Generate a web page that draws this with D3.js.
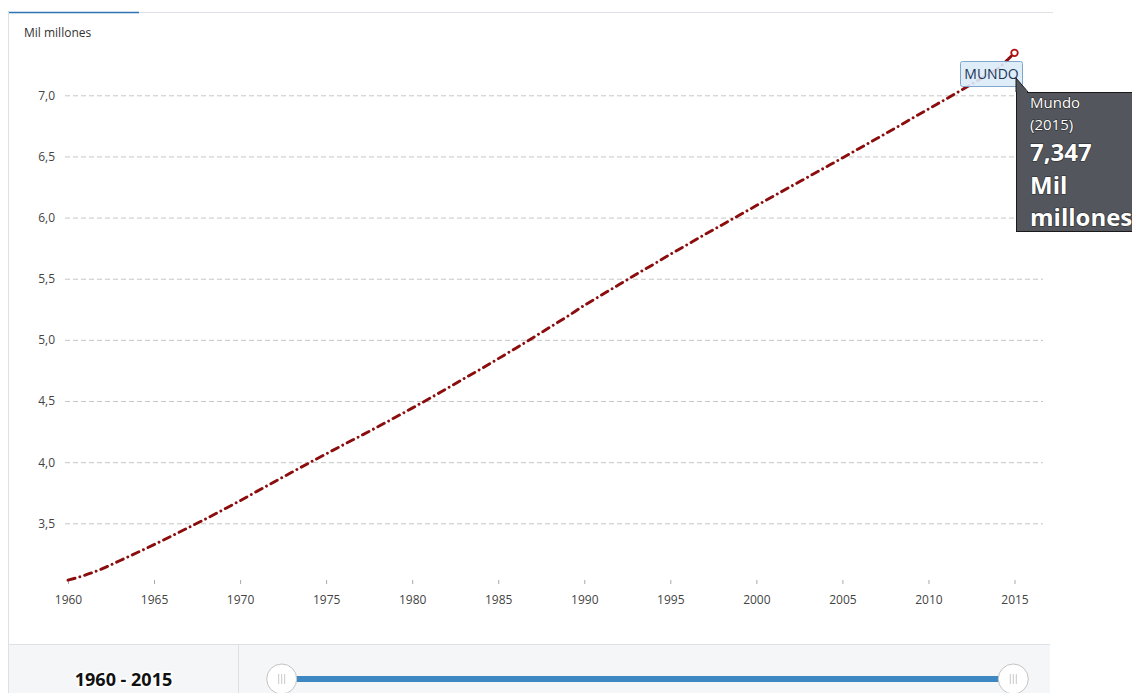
<!DOCTYPE html>
<html>
<head>
<meta charset="utf-8">
<script src="https://cdn.jsdelivr.net/npm/d3@7"></script>
<style>
  body { margin: 0; background: #fff; font-family: "Open Sans", sans-serif; }
  svg { display: block; }
</style>
</head>
<body>
<svg id="chart" width="1132" height="693"></svg>
<script>
// data: world population, billions
var years = d3.range(1960, 2016);
var population = [
  3.035, 3.076, 3.129, 3.194, 3.259, 3.326, 3.395, 3.465, 3.536, 3.610,
  3.685, 3.763, 3.840, 3.917, 3.993, 4.068, 4.142, 4.215, 4.289, 4.365,
  4.442, 4.520, 4.601, 4.682, 4.763, 4.846, 4.930, 5.016, 5.103, 5.190,
  5.282, 5.366, 5.450, 5.534, 5.616, 5.699, 5.780, 5.861, 5.940, 6.019,
  6.098, 6.176, 6.254, 6.332, 6.410, 6.488, 6.567, 6.646, 6.726, 6.807,
  6.888, 6.968, 7.050, 7.132, 7.215, 7.347
];
var yTicks = [3.5, 4.0, 4.5, 5.0, 5.5, 6.0, 6.5, 7.0];
var xTicks = d3.range(1960, 2016, 5);
var unitLabel = "Mil millones";
var seriesName = "Mundo";
var rangeLabel = "1960 - 2015";

var data = years.map(function(y, i) { return { year: y, value: population[i] }; });
var last = data[data.length - 1];

var svg = d3.select("#chart");
var fmt = function(v) { return d3.format(".1f")(v).replace(".", ","); };

// scales
var x = d3.scaleLinear().domain([1960, 2015]).range([68, 1014.5]);
var y = d3.scaleLinear().domain([3.5, 7.0]).range([523.3, 95.3]);

// frame: top rule with blue tab, left rule
svg.append("line").attr("x1", 8).attr("x2", 1053).attr("y1", 12.5).attr("y2", 12.5)
  .attr("stroke", "#dde1e6").attr("stroke-width", 1);
svg.append("line").attr("x1", 8).attr("x2", 139).attr("y1", 12.5).attr("y2", 12.5)
  .attr("stroke", "#2f75b5").attr("stroke-width", 1.5);
svg.append("line").attr("x1", 8.5).attr("x2", 8.5).attr("y1", 12).attr("y2", 693)
  .attr("stroke", "#dde1e6");

// unit label
svg.append("text").attr("x", 24).attr("y", 37)
  .attr("font-size", 12).attr("fill", "#333").text(unitLabel);

// y axis with dashed grid
var yAxis = d3.axisLeft(y).tickValues(yTicks).tickFormat(fmt)
  .tickSize(-978).tickPadding(10);
var gy = svg.append("g").attr("transform", "translate(65,0)").call(yAxis);
gy.select(".domain").remove();
gy.selectAll(".tick line").attr("stroke", "#c6c6c6").attr("stroke-dasharray", "5,3");
gy.selectAll(".tick text").attr("font-family", "Open Sans").attr("font-size", 12)
  .attr("fill", "#444").attr("x", -10);

// x axis
var xAxis = d3.axisBottom(x).tickValues(xTicks).tickFormat(d3.format("d"))
  .tickSize(4).tickPadding(11);
var gx = svg.append("g").attr("transform", "translate(0,580)").call(xAxis);
gx.select(".domain").remove();
gx.selectAll(".tick line").attr("stroke", "#aaa");
gx.selectAll(".tick text").attr("font-family", "Open Sans").attr("font-size", 12)
  .attr("fill", "#444");

// line
var line = d3.line().x(function(d) { return x(d.year); }).y(function(d) { return y(d.value); })
  .curve(d3.curveMonotoneX);
svg.append("path").datum(data).attr("d", line)
  .attr("fill", "none").attr("stroke", "#8b0d0d").attr("stroke-width", 2.9)
  .attr("stroke-linecap", "round").attr("stroke-dasharray", "7.3,5.0,0.01,5.0");

// end marker
svg.append("circle").attr("cx", x(last.year)).attr("cy", y(last.value)).attr("r", 3.3)
  .attr("fill", "#fff").attr("stroke", "#b01010").attr("stroke-width", 1.8);

// series label box
var lbl = svg.append("g");
lbl.append("rect").attr("x", 960.5).attr("y", 61.5).attr("width", 62).attr("height", 25)
  .attr("rx", 2).attr("fill", "#dcebf8").attr("fill-opacity", 0.9)
  .attr("stroke", "#7fa6cc");
lbl.append("text").attr("x", 991.5).attr("y", 79).attr("text-anchor", "middle")
  .attr("font-size", 14).attr("fill", "#1b3556").text(seriesName.toUpperCase());

// tooltip
var tip = svg.append("g");
tip.append("path").attr("d", "M1016,78 L1028,92 L1016,92 Z").attr("fill", "#53565d")
  .attr("stroke", "#1a1a1a").attr("stroke-width", 1);
tip.append("rect").attr("x", 1016.5).attr("y", 92.5).attr("width", 130).attr("height", 139)
  .attr("fill", "#53565d").attr("stroke", "#1a1a1a").attr("stroke-width", 1);
tip.append("rect").attr("x", 1017).attr("y", 90).attr("width", 10).attr("height", 3)
  .attr("fill", "#53565d");
var tipLines = [
  { t: seriesName, y: 107.5, s: 15, w: "normal" },
  { t: "(" + last.year + ")", y: 130, s: 15, w: "normal" },
  { t: d3.format(".3f")(last.value).replace(".", ","), y: 161, s: 24, w: "bold" },
  { t: "Mil", y: 194, s: 24, w: "bold" },
  { t: "millones", y: 226, s: 24, w: "bold" }
];
tip.selectAll("text.tl").data(tipLines).enter().append("text")
  .attr("class", "tl").attr("x", 1030).attr("y", function(d) { return d.y; })
  .attr("font-size", function(d) { return d.s; })
  .attr("font-weight", function(d) { return d.w; })
  .attr("fill", "#fff").attr("stroke", "#2a2a2a").attr("stroke-width", 1.2)
  .attr("paint-order", "stroke")
  .text(function(d) { return d.t; });

// bottom range panel
svg.append("rect").attr("x", 9).attr("y", 644.5).attr("width", 1041).attr("height", 50)
  .attr("fill", "#f5f6f8");
svg.append("line").attr("x1", 8).attr("x2", 1050).attr("y1", 644.5).attr("y2", 644.5)
  .attr("stroke", "#dde1e6");
svg.append("line").attr("x1", 238.5).attr("x2", 238.5).attr("y1", 645).attr("y2", 693)
  .attr("stroke", "#dde1e6");
svg.append("text").attr("x", 123.5).attr("y", 686).attr("text-anchor", "middle")
  .attr("font-size", 18).attr("font-weight", "bold").attr("fill", "#111")
  .attr("stroke", "#fff").attr("stroke-width", 3).attr("paint-order", "stroke")
  .text(rangeLabel);

// slider track and handles
var sx = d3.scaleLinear().domain([1960, 2015]).range([281.7, 1013.3]);
svg.append("line").attr("x1", sx(1960)).attr("x2", sx(2015)).attr("y1", 679).attr("y2", 679)
  .attr("stroke", "#3d88c2").attr("stroke-width", 6);
var handles = svg.selectAll("g.handle").data([1960, 2015]).enter().append("g")
  .attr("class", "handle").attr("transform", function(d) { return "translate(" + sx(d) + ",679)"; });
handles.append("circle").attr("r", 15).attr("fill", "#fff").attr("stroke", "#c4c4c4");
handles.selectAll("line").data([-3, 0, 3]).enter().append("line")
  .attr("x1", function(d) { return d; }).attr("x2", function(d) { return d; })
  .attr("y1", -5).attr("y2", 5).attr("stroke", "#c8c8c8").attr("stroke-width", 1);
</script>
</body>
</html>
